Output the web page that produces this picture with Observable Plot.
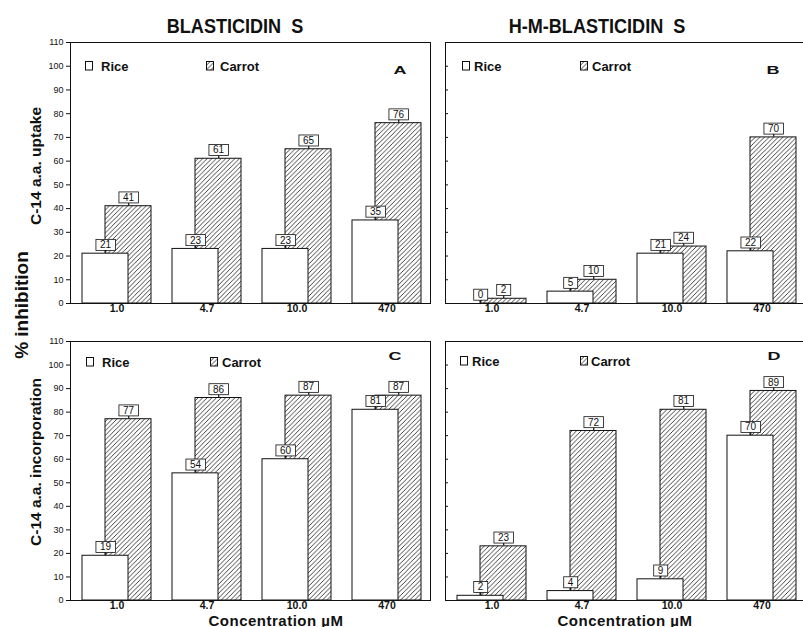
<!DOCTYPE html>
<html>
<head>
<meta charset="utf-8">
<script src="https://cdn.jsdelivr.net/npm/d3@7"></script>
<script src="https://cdn.jsdelivr.net/npm/@observablehq/plot@0.6"></script>
<style>
  body { margin: 0; background: #fff; overflow: hidden; }
  #wrap { position: relative; width: 803px; height: 627px; overflow: hidden;
          font-family: "Liberation Sans", Arial, sans-serif; color: #111; }
  .abs { position: absolute; white-space: nowrap; line-height: 1; }
  .c { transform: translate(-50%, -50%); }
  .title { font-weight: bold; font-size: 21px; transform: translate(-50%, -50%) scaleX(0.86); }
  .ylab { font-weight: bold; font-size: 15.5px; transform: translate(-50%, -50%) rotate(-90deg); }
  .big { font-weight: bold; font-size: 19px; transform: translate(-50%, -50%) rotate(-90deg); }
  .xlab { font-weight: bold; font-size: 15px; letter-spacing: 0.5px; }
  .leg { font-weight: bold; font-size: 13px; transform: translateY(-50%); }
  .letter { font-weight: bold; font-size: 10px; transform: translate(-50%, -50%) scaleX(1.8); }
  .sw { position: absolute; transform: translateY(-50%); line-height: 0; }
</style>
</head>
<body>
<div id="wrap"></div>
<script>
// ---- data ----
const concentrations = ["1.0", "4.7", "10.0", "470"];
const yTicks = [0, 10, 20, 30, 40, 50, 60, 70, 80, 90, 100, 110];

const uptakeBlaRice    = [21, 23, 23, 35];
const uptakeBlaCarrot  = [41, 61, 65, 76];
const uptakeHmRice     = [0, 5, 21, 22];
const uptakeHmCarrot   = [2, 10, 24, 70];
const incorpBlaRice    = [19, 54, 60, 81];
const incorpBlaCarrot  = [77, 86, 87, 87];
const incorpHmRice     = [2, 4, 9, 70];
const incorpHmCarrot   = [23, 72, 81, 89];

const compoundTitles = ["BLASTICIDIN\u00a0\u00a0S", "H-M-BLASTICIDIN\u00a0\u00a0S"];
const rowLabels = ["C-14  a.a.  uptake", "C-14  a.a.  incorporation"];
const seriesNames = ["Rice", "Carrot"];
const panelLetters = ["A", "B", "C", "D"];
const overallLabel = "% inhibition";
const xAxisLabel = "Concentration \u00b5M";

const wrap = document.getElementById("wrap");
const ns = "http://www.w3.org/2000/svg";

function hatchDefs(svg, id) {
  d3.select(svg).insert("defs", ":first-child").html(
    `<pattern id="${id}" patternUnits="userSpaceOnUse" width="4.6" height="4.6">
       <rect width="4.6" height="4.6" fill="#fff"/>
       <path d="M-1,1 L1,-1 M0,4.6 L4.6,0 M3.6,5.6 L5.6,3.6" stroke="#222" stroke-width="0.85"/>
     </pattern>`);
}

function panel(rice, carrot, g) {
  const rows = concentrations.map((c, i) => ({conc: c, rice: rice[i], carrot: carrot[i]}));
  const svg = Plot.plot({
    width: g.width, height: g.height,
    marginLeft: g.mL, marginRight: g.mR, marginTop: g.mT, marginBottom: g.mB,
    style: {background: "transparent", fontFamily: "Liberation Sans", color: "#111", overflow: "visible"},
    x: {type: "band", domain: concentrations, padding: 0, label: null},
    y: {domain: [0, 110], label: null},
    marks: [
      Plot.barY(rows, {x: "conc", y: "carrot", fill: `url(#${g.id})`, stroke: "#111", strokeWidth: 1, insetLeft: 35, insetRight: 9}),
      Plot.barY(rows, {x: "conc", y: "rice", fill: "white", stroke: "#111", strokeWidth: 1, insetLeft: 12, insetRight: 32}),
      g.labels
        ? Plot.axisY({ticks: yTicks, tickSize: 4, tickPadding: 3, fontSize: 9, label: null})
        : Plot.axisY({ticks: yTicks, tickSize: -3, text: null, label: null}),
      Plot.axisX({tickSize: 0, tickPadding: 1, fontWeight: "bold", fontSize: 10.5, dx: 1.5, label: null}),
      Plot.frame({stroke: "#111", strokeWidth: 1}),
      Plot.text(rows, {x: "conc", y: "rice", text: d => String(d.rice), dx: -10, dy: -8.5, fontSize: 10, fill: "#111", ariaDescription: "vlabel"}),
      Plot.text(rows, {x: "conc", y: "carrot", text: d => String(d.carrot), dx: 13, dy: -8.5, fontSize: 10, fill: "#111", ariaDescription: "vlabel"})
    ]
  });
  hatchDefs(svg, g.id);
  svg.style.position = "absolute";
  svg.style.left = g.left + "px";
  svg.style.top = g.top + "px";
  wrap.appendChild(svg);
  // boxes around value labels
  svg.querySelectorAll('g[aria-description="vlabel"] text').forEach(t => {
    const b = t.getBBox();
    const tr = t.getAttribute("transform");
    const cx = b.x + b.width / 2, cy = b.y + b.height / 2;
    const r = document.createElementNS(ns, "rect");
    r.setAttribute("x", cx - b.width / 2 - 4);
    r.setAttribute("y", cy - 5.5);
    r.setAttribute("width", b.width + 8);
    r.setAttribute("height", 11);
    r.setAttribute("fill", "#fff");
    r.setAttribute("stroke", "#111");
    r.setAttribute("stroke-width", "0.8");
    const l = document.createElementNS(ns, "line");
    l.setAttribute("x1", cx); l.setAttribute("x2", cx);
    l.setAttribute("y1", cy + 5.5); l.setAttribute("y2", cy + 8);
    l.setAttribute("stroke", "#111"); l.setAttribute("stroke-width", "1.2");
    if (tr) { r.setAttribute("transform", tr); l.setAttribute("transform", tr); }
    t.parentNode.insertBefore(r, t);
    t.parentNode.insertBefore(l, t);
  });
}

panel(uptakeBlaRice, uptakeBlaCarrot, {id: "hA", left: 0, top: 30, width: 440, height: 290, mL: 70, mR: 10, mT: 12, mB: 17, labels: true});
panel(uptakeHmRice, uptakeHmCarrot, {id: "hB", left: 430, top: 30, width: 385, height: 290, mL: 15, mR: 10, mT: 12, mB: 17, labels: false});
panel(incorpBlaRice, incorpBlaCarrot, {id: "hC", left: 0, top: 329, width: 440, height: 288, mL: 70, mR: 10, mT: 12, mB: 17, labels: true});
panel(incorpHmRice, incorpHmCarrot, {id: "hD", left: 430, top: 329, width: 385, height: 288, mL: 15, mR: 10, mT: 12, mB: 17, labels: false});

function addText(txt, cls, x, y) {
  const d = document.createElement("div");
  d.className = "abs " + cls;
  d.style.left = x + "px";
  d.style.top = y + "px";
  d.textContent = txt;
  wrap.appendChild(d);
  return d;
}
function addSwatch(kind, x, y) {
  const s = document.createElement("div");
  s.className = "sw";
  s.style.left = x + "px";
  s.style.top = y + "px";
  s.innerHTML = kind === "rice"
    ? `<svg width="8" height="10"><rect x="0.5" y="0.5" width="7" height="8.5" fill="#fff" stroke="#111" stroke-width="1"/></svg>`
    : `<svg width="8" height="10"><rect x="0.5" y="0.5" width="7" height="8.5" fill="url(#hA)" stroke="#111" stroke-width="1"/></svg>`;
  wrap.appendChild(s);
}

// titles
addText(compoundTitles[0], "title", 234.5, 25);
addText(compoundTitles[1], "title", 597, 25);
// row labels
addText(rowLabels[0], "ylab", 36, 166);
addText(rowLabels[1], "ylab", 36, 462);
addText(overallLabel, "big", 21, 305);
// x labels
addText(xAxisLabel, "xlab c", 276, 619.5);
addText(xAxisLabel, "xlab c", 625, 619.5);

// legends
const legends = [
  {rx: 85, tx: 101, cx: 206, ctx: 220, y: 65.5},
  {rx: 462, tx: 474, cx: 580, ctx: 592, y: 65.5},
  {rx: 86, tx: 102, cx: 210, ctx: 222, y: 362},
  {rx: 460, tx: 472, cx: 580, ctx: 591, y: 361}
];
legends.forEach(l => {
  addSwatch("rice", l.rx, l.y);
  addText(seriesNames[0], "leg", l.tx, l.y);
  addSwatch("carrot", l.cx, l.y);
  addText(seriesNames[1], "leg", l.ctx, l.y);
});
addText(panelLetters[0], "letter", 400, 70.5);
addText(panelLetters[1], "letter", 773, 70.5);
addText(panelLetters[2], "letter", 395, 356.5);
addText(panelLetters[3], "letter", 774, 356.5);
</script>
</body>
</html>
